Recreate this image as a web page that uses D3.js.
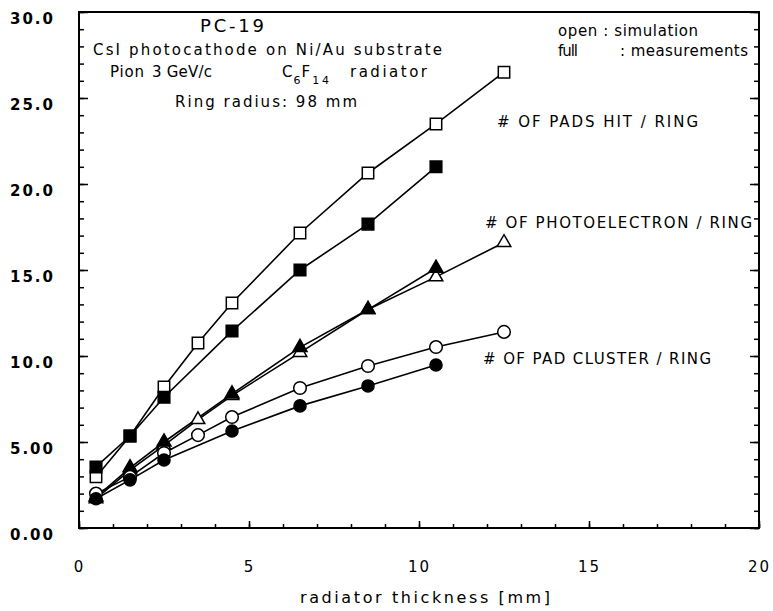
<!DOCTYPE html>
<html>
<head>
<meta charset="utf-8">
<script src="https://cdn.jsdelivr.net/npm/d3@7"></script>
<style>
  body { margin: 0; background: #fff; }
  svg { display: block; }
  text { font-family: "DejaVu Sans", Verdana, sans-serif; fill: #000; }
</style>
</head>
<body>
<svg width="773" height="611"></svg>
<script>
// radiator thickness [mm]
const xSim = [0.5, 1.5, 2.5, 3.5, 4.5, 6.5, 8.5, 10.5, 12.5];
const xMeas = [0.5, 1.5, 2.5, 4.5, 6.5, 8.5, 10.5];

// open = simulation, full = measurements
const padsSim = [2.97, 5.35, 8.2, 10.76, 13.08, 17.15, 20.64, 23.49, 26.5];
const padsMeas = [3.55, 5.35, 7.6, 11.45, 15.0, 17.67, 21.0];
const pheSim = [1.7, 3.37, 4.8, 6.3, 7.7, 10.2, 12.7, 14.6, 16.6];
const pheMeas = [1.8, 3.5, 5.0, 7.8, 10.5, 12.7, 15.1];
const cluSim = [2.0, 2.97, 4.36, 5.4, 6.45, 8.14, 9.42, 10.52, 11.4];
const cluMeas = [1.7, 2.8, 3.95, 5.64, 7.1, 8.26, 9.48];

const xTicks = [0, 5, 10, 15, 20];
const yTicks = [0, 5, 10, 15, 20, 25, 30];

const svg = d3.select("svg");

const x = d3.scaleLinear().domain([0, 20]).range([79, 759]);
const y = d3.scaleLinear().domain([0, 30]).range([528, 12]);

// axes: major ticks with labels, minor ticks every unit, all pointing inward
svg.append("g")
  .attr("transform", "translate(0,528)")
  .call(d3.axisBottom(x).ticks(20).tickSize(-4).tickFormat(""))
  .call((g) => g.select(".domain").remove());

svg.append("g")
  .attr("transform", "translate(0,528)")
  .call(d3.axisBottom(x).tickValues(xTicks).tickSizeInner(-7).tickSizeOuter(0).tickPadding(33))
  .call((g) => g.select(".domain").remove())
  .selectAll("text")
  .attr("font-size", 15)
  .attr("letter-spacing", 2)
  .attr("font-family", "DejaVu Sans");

svg.append("g")
  .attr("transform", "translate(79,0)")
  .call(d3.axisLeft(y).ticks(30).tickSize(-5).tickFormat(""))
  .call((g) => g.select(".domain").remove());

svg.append("g")
  .attr("transform", "translate(79,0)")
  .call(d3.axisLeft(y).tickValues(yTicks).tickSizeInner(-9).tickSizeOuter(0)
    .tickPadding(24).tickFormat(d3.format(".3r")))
  .call((g) => g.select(".domain").remove())
  .selectAll("text")
  .attr("dy", "0.75em")
  .attr("font-size", 15)
  .attr("font-weight", "bold")
  .attr("letter-spacing", 2)
  .attr("font-family", "DejaVu Sans");

svg.append("g")
  .attr("transform", "translate(759,0)")
  .call(d3.axisRight(y).ticks(30).tickSize(-5).tickFormat(""))
  .call((g) => g.select(".domain").remove());

svg.append("g")
  .attr("transform", "translate(759,0)")
  .call(d3.axisRight(y).tickValues(yTicks).tickSize(-9).tickFormat(""))
  .call((g) => g.select(".domain").remove());

svg.selectAll(".tick line").attr("stroke", "#000").attr("stroke-width", 1.5);

svg.append("rect")
  .attr("x", x(0))
  .attr("y", y(30))
  .attr("width", x(20) - x(0))
  .attr("height", y(0) - y(30))
  .attr("fill", "none")
  .attr("stroke", "#000")
  .attr("stroke-width", 2);

// series
const series = [
  { xs: xSim, ys: padsSim, shape: d3.symbolSquare, size: 130, filled: false },
  { xs: xMeas, ys: padsMeas, shape: d3.symbolSquare, size: 135, filled: true },
  { xs: xSim, ys: pheSim, shape: d3.symbolTriangle, size: 80, filled: false },
  { xs: xMeas, ys: pheMeas, shape: d3.symbolTriangle, size: 85, filled: true },
  { xs: xSim, ys: cluSim, shape: d3.symbolCircle, size: 125, filled: false },
  { xs: xMeas, ys: cluMeas, shape: d3.symbolCircle, size: 115, filled: true }
];

const line = d3.line()
  .x((d) => x(d[0]))
  .y((d) => y(d[1]));

series.forEach((s) => {
  const pts = s.xs.map((v, i) => [v, s.ys[i]]);
  svg.append("path")
    .datum(pts)
    .attr("fill", "none")
    .attr("stroke", "#000")
    .attr("stroke-width", 1.6)
    .attr("d", line);
});

series.forEach((s) => {
  const pts = s.xs.map((v, i) => [v, s.ys[i]]);
  svg.append("g")
    .selectAll("path")
    .data(pts)
    .join("path")
    .attr("transform", (d) => `translate(${x(d[0])},${y(d[1])})`)
    .attr("d", d3.symbol().type(s.shape).size(s.size))
    .attr("fill", s.filled ? "#000" : "#fff")
    .attr("stroke", "#000")
    .attr("stroke-width", 1.5);
});

// annotations
function label(txt, x0, y0, len, size) {
  return svg.append("text")
    .attr("x", x0)
    .attr("y", y0)
    .attr("font-size", size || 15)
    .attr("textLength", len)
    .attr("lengthAdjust", "spacing")
    .text(txt);
}

label("PC-19", 200, 32, 64, 18);
label("CsI photocathode on Ni/Au substrate", 93, 55, 349);
label("Pion", 110, 77, 34);
label("3 GeV/c", 152, 77, 60);
label("radiator", 350, 77, 77);
label("Ring radius: 98 mm", 175, 107, 182);

const c6f14 = svg.append("text").attr("x", 282).attr("y", 77).attr("font-size", 15);
c6f14.append("tspan").text("C");
c6f14.append("tspan").attr("font-size", 11).attr("dy", 7).attr("dx", 1).text("6");
c6f14.append("tspan").attr("dy", -7).attr("dx", 1).text("F");
c6f14.append("tspan").attr("font-size", 11).attr("dy", 7).attr("dx", 2).attr("letter-spacing", 3).text("14");

label("open : simulation", 558, 36, 140);
label("full", 558, 56, 20);
label(": measurements", 620, 56, 128);

label("# OF PADS HIT / RING", 497, 127, 201);
label("# OF PHOTOELECTRON / RING", 485, 228, 267);
label("# OF PAD CLUSTER / RING", 483, 364, 228);

svg.append("text")
  .attr("x", 425)
  .attr("y", 603)
  .attr("text-anchor", "middle")
  .attr("font-size", 16)
  .attr("textLength", 250)
  .attr("lengthAdjust", "spacing")
  .text("radiator thickness [mm]");
</script>
</body>
</html>
